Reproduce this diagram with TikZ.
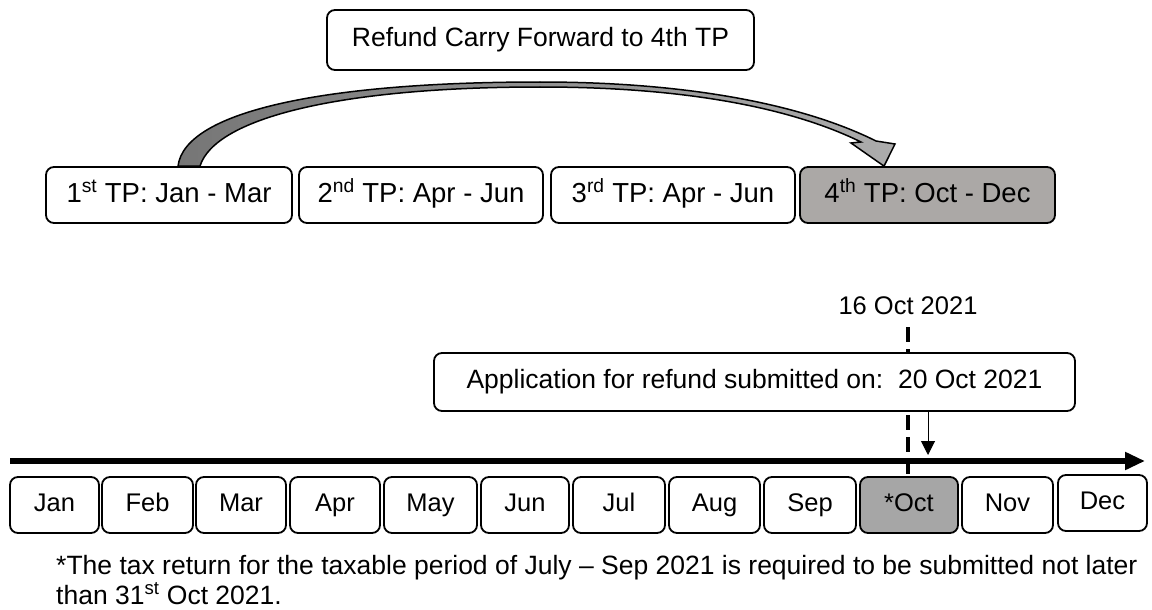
\documentclass[tikz,border=0pt]{standalone}
\usepackage{fontspec}
\setmainfont{Liberation Sans}
\usetikzlibrary{arrows.meta}

\definecolor{tpgray}{RGB}{171,168,166}
\definecolor{octgray}{RGB}{166,166,166}
\definecolor{arcdark}{RGB}{118,118,118}
\definecolor{arclight}{RGB}{172,172,172}

\begin{document}
\begin{tikzpicture}[x=1pt,y=-1pt]
    \useasboundingbox (0,0) rectangle (1152,610);

    \tikzstyle{tpnode} = [draw, fill=white, line width=1.8pt, rounded corners=8pt, minimum height=56pt, inner sep=0pt, text height=20pt, text depth=6pt, font=\fontsize{27.5}{33}\selectfont]
    \tikzstyle{boxnode} = [draw, fill=white, line width=1.8pt, rounded corners=8pt, inner sep=0pt, text height=19pt, text depth=5.5pt, font=\fontsize{26.5}{32}\selectfont]
    \tikzstyle{mnode} = [draw, fill=white, line width=1.8pt, rounded corners=8pt, minimum height=56pt, inner sep=0pt, text height=19pt, text depth=5.5pt, font=\fontsize{25.5}{31}\selectfont]
    \tikzstyle{plain} = [inner sep=0pt, font=\fontsize{25.5}{31}\selectfont]
    \tikzstyle{notetext} = [inner sep=0pt, font=\fontsize{26.5}{31}\selectfont]

    % taxable periods
    \node[boxnode, minimum width=427pt, minimum height=60pt] (carry) at (540.5,40) {Refund Carry Forward to 4th TP};

    \node[tpnode, minimum width=246pt] (tp1) at (169,195) {1\textsuperscript{st} TP: Jan - Mar};
    \node[tpnode, minimum width=244pt] (tp2) at (421,195) {2\textsuperscript{nd} TP: Apr - Jun};
    \node[tpnode, minimum width=244pt] (tp3) at (673,195) {3\textsuperscript{rd} TP: Apr - Jun};
    \node[tpnode, minimum width=255pt, fill=tpgray] (tp4) at (927.5,195) {4\textsuperscript{th} TP: Oct - Dec};

    % curved block arrow from 1st TP to 4th TP
    \path[draw, line width=1.5pt, line join=miter, left color=arcdark, right color=arclight]
        ([xshift=9pt]tp1.north) .. controls (185,110) and (330,82) .. (540,82)
        .. controls (700,82) and (810,108) .. (876,141)
        -- (895,144) -- ([xshift=-43.5pt]tp4.north) -- (851,143) -- (861,142)
        .. controls (800,112) and (700,87) .. (540,87)
        .. controls (340,87) and (215,118) .. ([xshift=31pt]tp1.north) -- cycle;

    % months
    \node[mnode, minimum width=89pt] (jan) at (54.5,505) {Jan};
    \node[mnode, minimum width=91pt] (feb) at (147.5,505) {Feb};
    \node[mnode, minimum width=90pt] (mar) at (241,505) {Mar};
    \node[mnode, minimum width=90pt] (apr) at (335,505) {Apr};
    \node[mnode, minimum width=93pt] (may) at (430.5,505) {May};
    \node[mnode, minimum width=88pt] (jun) at (525,505) {Jun};
    \node[mnode, minimum width=92pt] (jul) at (619,505) {Jul};
    \node[mnode, minimum width=91pt] (aug) at (714.5,505) {Aug};
    \node[mnode, minimum width=92pt] (sep) at (810,505) {Sep};
    \node[mnode, minimum width=98pt, fill=octgray] (oct) at (909,505) {*Oct};
    \node[mnode, minimum width=91pt] (nov) at (1007.5,505) {Nov};
    \node[mnode, minimum width=89pt] (dec) at (1102.5,503) {Dec};

    % deadline marker and submission
    \node[plain] (date) at (908,306) {16 Oct 2021};
    \draw[line width=3.5pt, dash pattern=on 15pt off 7pt] ([yshift=-12pt]date.south) -- (date.south |- oct.north);

    \node[boxnode, minimum width=641pt, minimum height=58pt] (app) at (754.5,382) {Application for refund submitted on:\ \ 20 Oct 2021};

    % time line
    \coordinate (t0) at (10,461);
    \coordinate (t1) at (1145,461);
    \coordinate (sub) at (928,455);
    \draw[line width=5.5pt, -{Triangle[length=20pt,width=17pt]}] (t0) -- (t1);
    \draw[line width=1pt, -{Triangle[length=14pt,width=14pt]}] (app.south -| sub) -- (sub);

    % note
    \node[notetext, anchor=base west] (note1) at (56,574) {*The tax return for the taxable period of July – Sep 2021 is required to be submitted not later};
    \node[notetext, anchor=base west] (note2) at (56,604) {than 31\textsuperscript{st} Oct 2021.};
\end{tikzpicture}
\end{document}
